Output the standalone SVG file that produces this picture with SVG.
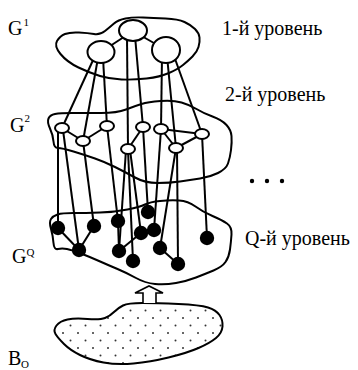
<svg xmlns="http://www.w3.org/2000/svg" width="358" height="370" viewBox="0 0 358 370">
  <defs>
    <pattern id="dots" x="0" y="0" width="15" height="15" patternUnits="userSpaceOnUse">
      <circle cx="3" cy="3" r="1" fill="#333"/>
      <circle cx="10.5" cy="10.5" r="1" fill="#333"/>
    </pattern>
  </defs>
  <style>
    .blob { fill: none; stroke: #000; stroke-width: 2; stroke-linejoin: round; }
    .edge { stroke: #000; stroke-width: 2; fill: none; }
    .big { fill: #fff; stroke: #000; stroke-width: 2; }
    .small { fill: #fff; stroke: #000; stroke-width: 2; }
    .dot { fill: #000; }
    .lbl { font-family: "Liberation Serif", "Times New Roman", serif; font-size: 20px; fill: #000; }
    .sym { font-family: "Liberation Serif", "Times New Roman", serif; font-size: 20px; fill: #000; }
    .sup { font-family: "Liberation Serif", "Times New Roman", serif; font-size: 11px; fill: #000; }
  </style>

  <!-- level outlines -->
  <g id="outlines">
    <path id="level1-region" class="blob" d="M60.5,54 Q54,46 57,41 Q60,36 65,34 Q70,32 79,32.5 Q88,33 94,34 Q100,35 105,31 Q110,27 114,23.5 Q118,20 125.5,18.5 Q133,17 143,17.5 Q153,18 165.5,18.5 Q178,19 184.5,22 Q191,25 195,29 Q199,33 199.5,37.5 Q200,42 198.5,47 Q197,52 192.5,56.5 Q188,61 183,65 Q178,69 169,73 Q160,77 146.5,78.5 Q133,80 121.5,79.5 Q110,79 100,76 Q90,73 78.5,67.5 Q67,62 60.5,54 Z"/>
    <path id="level2-region" class="blob" d="M50,128.5 Q47,122 48.5,118.5 Q50,115 55,114 Q60,113 72.5,113 Q85,113 101,113 Q117,113 126,109.5 Q135,106 141.5,104 Q148,102 160.5,101 Q173,100 181.5,102.5 Q190,105 196.5,109 Q203,113 212.5,116.5 Q222,120 226.5,125 Q231,130 231.5,136 Q232,142 231,150 Q230,158 228,163.5 Q226,169 218,173 Q210,177 200,178.5 Q190,180 180,181.5 Q170,183 157.5,183 Q145,183 135,177.5 Q125,172 115,167 Q105,162 95,158.5 Q85,155 73.5,151.5 Q62,148 58,148 Q54,148 53.5,141.5 Q53,135 50,128.5 Z"/>
    <path id="levelQ-region" class="blob" d="M51,229 Q49,222 51,219 Q53,216 57.5,214.5 Q62,213 73.5,213 Q85,213 100,212.5 Q115,212 127.5,209.5 Q140,207 145,204.5 Q150,202 160,201 Q170,200 179,200.5 Q188,201 195.5,206.5 Q203,212 212.5,216 Q222,220 227,223.5 Q232,227 231.5,234.5 Q231,242 230,249.5 Q229,257 225.5,262 Q222,267 213.5,270.5 Q205,274 196,277.5 Q187,281 176,283 Q165,285 155,284 Q145,283 136,278 Q127,273 117.5,269 Q108,265 99,261 Q90,257 81,253.5 Q72,250 67,249 Q62,248 58,249 Q54,250 53.5,243 Q53,236 51,229 Z"/>
  </g>

  <!-- input set B -->
  <g id="source-set">
    <path d="M55.5,334 Q53,330 56.5,325.5 Q60,321 67.5,319.5 Q75,318 87.5,319 Q100,320 105,318 Q110,316 114,312 Q118,308 123,305.5 Q128,303 142.5,303 Q157,303 178.5,304 Q200,305 208,307.5 Q216,310 219.5,315 Q223,320 222.5,326.5 Q222,333 216,338 Q210,343 198.5,348 Q187,353 168.5,357.5 Q150,362 133.5,363.5 Q117,365 103.5,362.5 Q90,360 80,355 Q70,350 64,344 Q58,338 55.5,334 Z" fill="url(#dots)" stroke="#000" stroke-width="2"/>
  </g>

  <!-- upward block arrow -->
  <g id="arrow">
    <polyline points="143,303 143,293 135,293 149,286 163,293 156,293 156,303" fill="#fff" stroke="#000" stroke-width="1.6" stroke-linejoin="miter"/>
  </g>

  <!-- connectors -->
  <g id="connectors" class="edge">
    <!-- level 1 internal -->
    <line x1="101" y1="52" x2="133" y2="31"/>
    <line x1="133" y1="31" x2="166" y2="50"/>
    <!-- level 1 to level 2 -->
    <line x1="94" y1="58" x2="62" y2="128"/>
    <line x1="98" y1="58" x2="83" y2="141"/>
    <line x1="103" y1="58" x2="107" y2="126"/>
    <line x1="127" y1="36" x2="128" y2="149"/>
    <line x1="135" y1="36" x2="143" y2="127"/>
    <line x1="162" y1="56" x2="161" y2="129"/>
    <line x1="167" y1="56" x2="176" y2="148"/>
    <line x1="174" y1="56" x2="202" y2="134"/>
    <!-- level 2 internal -->
    <line x1="62" y1="128" x2="83" y2="141"/>
    <line x1="83" y1="141" x2="107" y2="126"/>
    <line x1="128" y1="149" x2="143" y2="127"/>
    <line x1="161" y1="129" x2="176" y2="148"/>
    <line x1="176" y1="148" x2="202" y2="134"/>
    <line x1="161" y1="129" x2="202" y2="134"/>
    <!-- level 2 to level Q -->
    <line x1="58" y1="130" x2="58" y2="228"/>
    <line x1="63" y1="130" x2="79" y2="250"/>
    <line x1="83" y1="141" x2="94" y2="226"/>
    <line x1="107" y1="126" x2="118" y2="221"/>
    <line x1="126" y1="150" x2="119" y2="251"/>
    <line x1="128" y1="150" x2="133" y2="261"/>
    <line x1="130" y1="150" x2="141" y2="233"/>
    <line x1="143" y1="127" x2="148" y2="212"/>
    <line x1="161" y1="129" x2="154" y2="230"/>
    <line x1="176" y1="148" x2="160" y2="248"/>
    <line x1="177" y1="148" x2="178" y2="264"/>
    <line x1="202" y1="134" x2="207" y2="238"/>
    <!-- level Q internal -->
    <line x1="58" y1="228" x2="79" y2="250"/>
    <line x1="79" y1="250" x2="94" y2="226"/>
    <line x1="118" y1="221" x2="119" y2="251"/>
    <line x1="119" y1="251" x2="141" y2="233"/>
    <line x1="160" y1="248" x2="178" y2="264"/>
  </g>

  <!-- level 1 nodes -->
  <g id="n1a"><ellipse class="big" cx="101" cy="52" rx="13.5" ry="11"/></g>
  <g id="n1b"><ellipse class="big" cx="133" cy="30.5" rx="14" ry="10.5"/></g>
  <g id="n1c"><ellipse class="big" cx="166" cy="50" rx="14" ry="13"/></g>

  <!-- level 2 nodes -->
  <g id="n2a"><ellipse class="small" cx="62" cy="128" rx="7" ry="5"/></g>
  <g id="n2b"><ellipse class="small" cx="83" cy="141" rx="7" ry="5"/></g>
  <g id="n2c"><ellipse class="small" cx="107" cy="126" rx="7" ry="5"/></g>
  <g id="n2d"><ellipse class="small" cx="128" cy="149" rx="7" ry="5"/></g>
  <g id="n2e"><ellipse class="small" cx="143" cy="127" rx="7" ry="5"/></g>
  <g id="n2f"><ellipse class="small" cx="161" cy="129" rx="7" ry="5"/></g>
  <g id="n2g"><ellipse class="small" cx="176" cy="148" rx="7" ry="5"/></g>
  <g id="n2h"><ellipse class="small" cx="202" cy="134" rx="7" ry="5"/></g>

  <!-- level Q nodes -->
  <g id="nq1"><circle class="dot" cx="58" cy="228" r="7.2"/></g>
  <g id="nq2"><circle class="dot" cx="79" cy="250" r="7.2"/></g>
  <g id="nq3"><circle class="dot" cx="94" cy="226" r="7.2"/></g>
  <g id="nq4"><circle class="dot" cx="118" cy="221" r="7.2"/></g>
  <g id="nq5"><circle class="dot" cx="119" cy="251" r="7.2"/></g>
  <g id="nq6"><circle class="dot" cx="133" cy="261" r="7.2"/></g>
  <g id="nq7"><circle class="dot" cx="141" cy="233" r="7.2"/></g>
  <g id="nq8"><circle class="dot" cx="148" cy="212" r="7.2"/></g>
  <g id="nq9"><circle class="dot" cx="154" cy="230" r="7.2"/></g>
  <g id="nq10"><circle class="dot" cx="160" cy="248" r="7.2"/></g>
  <g id="nq11"><circle class="dot" cx="178" cy="264" r="7.2"/></g>
  <g id="nq12"><circle class="dot" cx="207" cy="238" r="7.2"/></g>

  <!-- ellipsis between levels -->
  <g id="ellipsis">
    <circle cx="252" cy="181" r="2.2"/>
    <circle cx="267" cy="181" r="2.2"/>
    <circle cx="282" cy="181" r="2.2"/>
  </g>

  <!-- labels -->
  <g id="labels">
    <text class="sym" x="8" y="35">G</text><text class="sup" x="23.5" y="26">1</text>
    <text class="sym" x="10" y="132">G</text><text class="sup" x="24.5" y="122">2</text>
    <text class="sym" x="12" y="263">G</text><text class="sup" x="26.5" y="256">Q</text>
    <text class="sym" x="8" y="365">B</text><text class="sup" x="21" y="368">O</text>
    <text class="lbl" x="222" y="35">1-й уровень</text>
    <text class="lbl" x="225" y="101">2-й уровень</text>
    <text class="lbl" x="245" y="245">Q-й уровень</text>
  </g>
</svg>
